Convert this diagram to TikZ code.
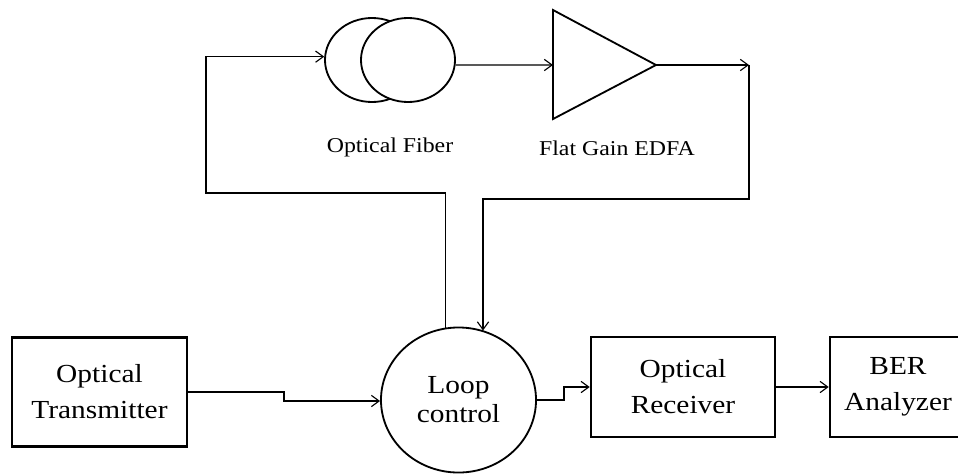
\documentclass[tikz,border=0pt]{standalone}
\usepackage{fontspec}
\setmainfont{Liberation Serif}
\newfontfamily\diagfont[FakeStretch=1.13]{Liberation Serif}
\usetikzlibrary{arrows.meta,positioning,shapes.geometric}

\begin{document}
\begin{tikzpicture}[
    x=0.025cm, y=-0.025cm,
    box/.style={rectangle, draw, line width=1.8pt, align=center, font=\diagfont\fontsize{18.5}{25.5}\selectfont},
    loopbox/.style={ellipse, draw, line width=1.3pt, align=center, minimum width=3.875cm, minimum height=3.625cm, inner sep=0pt, font=\diagfont\fontsize{18.5}{20.5}\selectfont},
    spool/.style={ellipse, draw, line width=1.3pt, fill=white, minimum width=2.35cm, minimum height=2.1cm, inner sep=0pt},
    tag/.style={font=\diagfont\fontsize{15}{18}\selectfont},
    arrow/.style={-{Straight Barb[length=5.5pt,width=8pt]}, line width=0.8pt},
    line/.style={line width=0.8pt}
]
\useasboundingbox (0,0) rectangle (958,475);
% lower row
\node[box, minimum width=4.375cm, minimum height=2.725cm] (tx) at (99.5,392) {Optical\\Transmitter};
\node[loopbox] (loop) at (458.5,400) {Loop\\control};
\node[box, minimum width=4.6cm, minimum height=2.5cm] (rx) at (683,387) {Optical\\Receiver};
\node[box, minimum width=3.4cm, minimum height=2.5cm] (ber) at (898,387) {BER\\Analyzer};
% fiber spool and amplifier
\node[spool] (fibA) at (372,60) {};
\node[spool] (fibB) at (408,60) {};
\node[tag] (fiblabel) at (390,147) {Optical Fiber};
\coordinate (ampin) at (553,65);
\coordinate (ampout) at (656,65);
\draw[line width=1.3pt, line join=miter] (553,10) -- (ampout) -- (553,119) -- cycle;
\node[tag] (amplabel) at (617,148) {Flat Gain EDFA};
% loop connections
\coordinate (lbend) at (206,193);
\coordinate (rtop) at (749,65);
\coordinate (rbend) at (483,199);
\draw[arrow] (loop.100) |- (lbend) |- (fibA.176);
\draw[arrow] (fibB.-6) -- (ampin);
\draw[arrow] (ampout) -- (rtop);
\draw[arrow] (rtop) |- (rbend) -- (rbend |- loop.70);
% lower connections
\coordinate (txstep) at (284,401);
\coordinate (rxstep) at (564,400);
\draw[arrow] (tx.east) -| (txstep) -- (txstep -| loop.west);
\draw[arrow] (loop.east) -- (rxstep) |- (rx.west);
\draw[arrow] (rx) -- (ber);
\end{tikzpicture}
\end{document}
